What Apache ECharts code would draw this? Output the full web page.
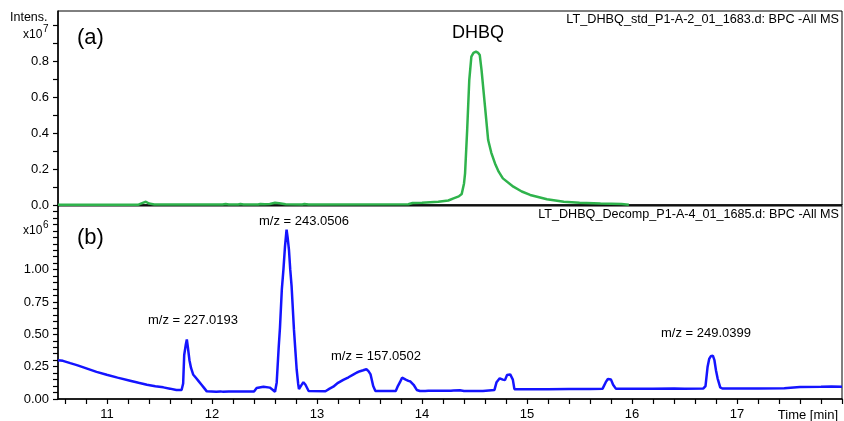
<!DOCTYPE html>
<html><head><meta charset="utf-8">
<script src="https://cdn.jsdelivr.net/npm/echarts@6/dist/echarts.min.js"></script>
<style>html,body{margin:0;padding:0;background:#fff}#c{width:844px;height:421px}</style>
</head><body><div id="c"></div>
<script>
// Panel (a): BPC of DHBQ standard, intensity x1e7
const greenTime = [10.533, 11.30, 11.34, 11.37, 11.40, 11.45, 12.10, 12.13, 12.16, 12.25, 12.27, 12.30, 12.44, 12.46, 12.50, 12.55, 12.60, 12.64, 12.70, 12.86, 12.88, 12.92, 13.87, 13.91, 14.00, 14.155, 14.25, 14.30, 14.35, 14.378, 14.40, 14.41, 14.43, 14.45, 14.47, 14.49, 14.514, 14.535, 14.55, 14.567, 14.60, 14.63, 14.66, 14.695, 14.73, 14.77, 14.87, 14.95, 15.03, 15.19, 15.35, 15.50, 15.70, 15.90, 15.97];
const greenIntensity = [0.002, 0.002, 0.012, 0.018, 0.008, 0.003, 0.003, 0.006, 0.003, 0.003, 0.006, 0.003, 0.003, 0.006, 0.004, 0.006, 0.012, 0.010, 0.004, 0.003, 0.006, 0.003, 0.004, 0.011, 0.013, 0.018, 0.025, 0.037, 0.048, 0.061, 0.120, 0.176, 0.417, 0.694, 0.824, 0.845, 0.852, 0.845, 0.833, 0.750, 0.546, 0.361, 0.290, 0.231, 0.185, 0.148, 0.102, 0.075, 0.056, 0.032, 0.018, 0.013, 0.008, 0.005, 0.002];
// Panel (b): BPC of decomposed DHBQ, intensity x1e6
const blueTime = [10.533, 10.58, 10.65, 10.72, 10.81, 10.90, 10.997, 11.10, 11.22, 11.30, 11.38, 11.46, 11.536, 11.60, 11.66, 11.71, 11.725, 11.735, 11.75, 11.76, 11.77, 11.785, 11.80, 11.82, 11.85, 11.87, 11.90, 11.92, 11.95, 12.04, 12.08, 12.09, 12.10, 12.16, 12.17, 12.19, 12.26, 12.27, 12.29, 12.40, 12.425, 12.49, 12.55, 12.58, 12.60, 12.616, 12.635, 12.647, 12.665, 12.68, 12.695, 12.71, 12.72, 12.733, 12.745, 12.758, 12.78, 12.795, 12.806, 12.82, 12.828, 12.85, 12.87, 12.89, 12.92, 13.08, 13.12, 13.155, 13.20, 13.25, 13.30, 13.34, 13.38, 13.41, 13.44, 13.47, 13.49, 13.51, 13.535, 13.556, 13.75, 13.77, 13.79, 13.81, 13.824, 13.845, 13.87, 13.89, 13.92, 13.95, 13.98, 14.03, 14.04, 14.06, 14.275, 14.28, 14.30, 14.36, 14.40, 14.58, 14.69, 14.71, 14.74, 14.77, 14.79, 14.81, 14.82, 14.84, 14.865, 14.88, 15.20, 15.40, 15.60, 15.72, 15.75, 15.77, 15.80, 15.82, 15.846, 16.00, 16.20, 16.40, 16.50, 16.68, 16.70, 16.72, 16.735, 16.75, 16.77, 16.785, 16.80, 16.815, 16.84, 16.86, 17.00, 17.20, 17.45, 17.46, 17.60, 17.80, 17.90, 18.00];
const blueIntensity = [0.300, 0.295, 0.277, 0.260, 0.235, 0.210, 0.187, 0.165, 0.141, 0.125, 0.110, 0.098, 0.090, 0.080, 0.069, 0.069, 0.120, 0.340, 0.420, 0.460, 0.400, 0.300, 0.240, 0.190, 0.160, 0.140, 0.110, 0.090, 0.059, 0.056, 0.058, 0.066, 0.057, 0.058, 0.066, 0.058, 0.058, 0.064, 0.058, 0.058, 0.085, 0.095, 0.088, 0.070, 0.056, 0.128, 0.400, 0.550, 0.850, 1.000, 1.180, 1.310, 1.250, 1.150, 1.000, 0.870, 0.540, 0.360, 0.230, 0.120, 0.077, 0.105, 0.130, 0.110, 0.062, 0.060, 0.080, 0.095, 0.125, 0.148, 0.168, 0.186, 0.205, 0.215, 0.222, 0.230, 0.215, 0.190, 0.100, 0.062, 0.062, 0.100, 0.130, 0.165, 0.175, 0.150, 0.140, 0.135, 0.110, 0.070, 0.062, 0.062, 0.068, 0.063, 0.063, 0.070, 0.065, 0.068, 0.062, 0.062, 0.070, 0.130, 0.160, 0.150, 0.146, 0.185, 0.195, 0.190, 0.150, 0.076, 0.075, 0.078, 0.078, 0.080, 0.130, 0.155, 0.150, 0.110, 0.080, 0.080, 0.080, 0.082, 0.080, 0.082, 0.100, 0.250, 0.310, 0.330, 0.335, 0.300, 0.220, 0.160, 0.090, 0.081, 0.081, 0.082, 0.083, 0.090, 0.092, 0.094, 0.097, 0.095];

const xLabelValues = [11, 12, 13, 14, 15, 16, 17];
const xTickValues = [10.6, 10.8, 11, 11.2, 11.4, 11.6, 11.8, 12, 12.2, 12.4, 12.6, 12.8, 13, 13.2, 13.4, 13.6, 13.8, 14, 14.2, 14.4, 14.6, 14.8, 15, 15.2, 15.4, 15.6, 15.8, 16, 16.2, 16.4, 16.6, 16.8, 17, 17.2, 17.4, 17.6, 17.8, 18];
const topLabelValues = [0, 0.2, 0.4, 0.6, 0.8];
const topTickValues = [0, 0.1, 0.2, 0.3, 0.4, 0.5, 0.6, 0.7, 0.8, 0.9, 1.0];
const bottomLabelValues = [0, 0.25, 0.5, 0.75, 1.0];
const bottomTickValues = [0, 0.05, 0.1, 0.15, 0.2, 0.25, 0.3, 0.35, 0.4, 0.45, 0.5, 0.55, 0.6, 0.65, 0.7, 0.75, 0.8, 0.85, 0.9, 0.95, 1.0, 1.05, 1.1, 1.15, 1.2, 1.25, 1.3, 1.35, 1.4, 1.45];

const titleA = 'LT_DHBQ_std_P1-A-2_01_1683.d: BPC -All MS';
const titleB = 'LT_DHBQ_Decomp_P1-A-4_01_1685.d: BPC -All MS';
const annotations = [
  { text: 'm/z = 243.0506', x: 304, y: 221 },
  { text: 'm/z = 227.0193', x: 193, y: 320 },
  { text: 'm/z = 157.0502', x: 376, y: 356 },
  { text: 'm/z = 249.0399', x: 706, y: 333 }
];

const FONT = '"Liberation Sans", Arial, sans-serif';
const greenData = greenTime.map((t, i) => [t, greenIntensity[i]]);
const blueData = blueTime.map((t, i) => [t, blueIntensity[i]]);

const X_MIN = 10.533, X_MAX = 18.0;

function txt(text, x, y, size, align, valign) {
  return {
    type: 'text', silent: true, z: 100,
    style: { text: text, x: x, y: y, font: size + 'px ' + FONT, fill: '#000',
      align: align || 'left', verticalAlign: valign || 'middle',
      textAlign: align || 'left', textVerticalAlign: valign || 'middle' }
  };
}

const chart = echarts.init(document.getElementById('c'), null, { renderer: 'canvas' });
const axisLine = { show: true, onZero: false, lineStyle: { color: '#000', width: 1.5 } };
const labelStyle = { color: '#000', fontSize: 13, fontFamily: FONT };

chart.setOption({
  animation: false,
  backgroundColor: '#fff',
  grid: [
    { left: 58, right: 2, top: 11, height: 194, show: true, borderColor: '#000', borderWidth: 1 },
    { left: 58, right: 2, top: 206, height: 194, show: true, borderColor: '#000', borderWidth: 1 }
  ],
  xAxis: [
    { type: 'value', gridIndex: 0, min: X_MIN, max: X_MAX, axisLine: axisLine,
      axisTick: { show: false }, axisLabel: { show: false }, splitLine: { show: false } },
    { type: 'value', gridIndex: 1, min: X_MIN, max: X_MAX, axisLine: axisLine,
      axisTick: { show: true, length: 5, customValues: xTickValues, lineStyle: { color: '#000', width: 1.2 } },
      axisLabel: Object.assign({ customValues: xLabelValues, margin: 9, formatter: v => String(v) }, labelStyle),
      splitLine: { show: false } }
  ],
  yAxis: [
    { type: 'value', gridIndex: 0, min: 0, max: 1.078, axisLine: axisLine,
      axisTick: { show: true, length: 5, customValues: topTickValues, lineStyle: { color: '#000', width: 1.2 } },
      axisLabel: Object.assign({ customValues: topLabelValues, margin: 9, formatter: v => v.toFixed(1) }, labelStyle),
      splitLine: { show: false } },
    { type: 'value', gridIndex: 1, min: 0, max: 1.492, axisLine: axisLine,
      axisTick: { show: true, length: 5, customValues: bottomTickValues, lineStyle: { color: '#000', width: 1.2 } },
      axisLabel: Object.assign({ customValues: bottomLabelValues, margin: 9, formatter: v => v.toFixed(2) }, labelStyle),
      splitLine: { show: false } }
  ],
  series: [
    { type: 'line', xAxisIndex: 0, yAxisIndex: 0, data: greenData, showSymbol: false, symbol: 'none',
      lineStyle: { color: '#2fb34c', width: 2.5 }, itemStyle: { color: '#2fb34c' }, z: 3 },
    { type: 'line', xAxisIndex: 1, yAxisIndex: 1, data: blueData, showSymbol: false, symbol: 'none',
      lineStyle: { color: '#1414ff', width: 2.5 }, itemStyle: { color: '#1414ff' }, z: 3 }
  ],
  graphic: [
    txt('Intens.', 10, 18, 12.5),
    txt('x10', 23, 35, 12),
    txt('7', 43, 29, 10),
    txt('x10', 23, 231, 12),
    txt('6', 43, 225, 10),
    txt('(a)', 77, 38, 22),
    txt('(b)', 77, 238, 22),
    txt('DHBQ', 478, 33, 18, 'center'),
    txt(titleA, 839, 19, 12.7, 'right'),
    txt(titleB, 839, 215, 12.6, 'right'),
    txt('Time [min]', 838, 415, 13, 'right')
  ].concat(annotations.map(a => txt(a.text, a.x, a.y, 13, 'center')))
});
</script>
</body></html>
